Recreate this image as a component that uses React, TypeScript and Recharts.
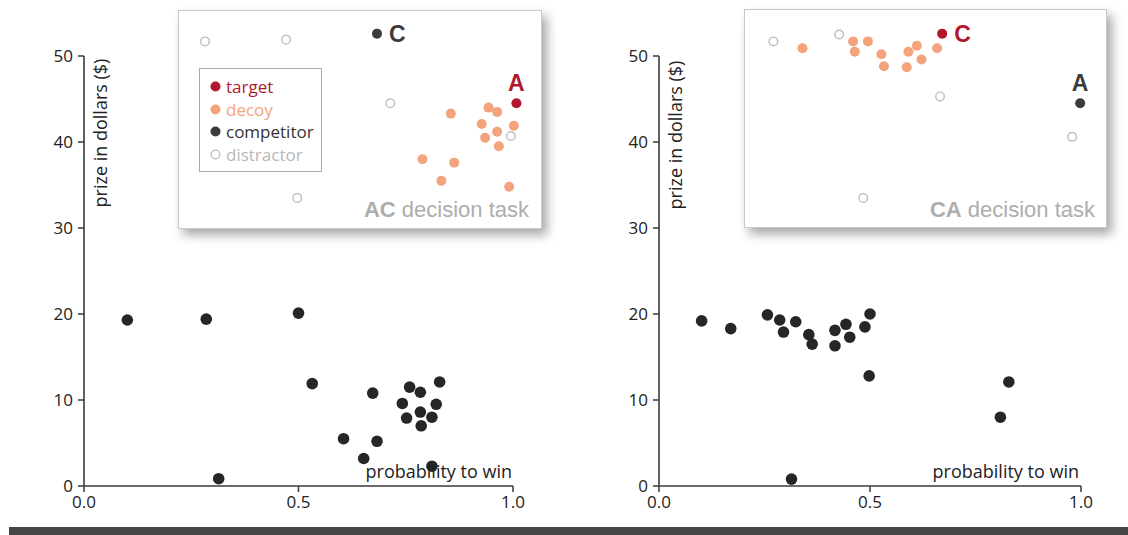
import { ScatterChart, Scatter, XAxis, YAxis, ReferenceLine, Legend } from 'recharts';

interface Pt {
  x: number;
  y: number;
}

const xTicks = [0, 0.5, 1];
const yTicks = [0, 10, 20, 30, 40, 50];
const xTitle = 'probability to win';
const yTitle = 'prize in dollars ($)';
const legendOrder = ['target', 'decoy', 'competitor', 'distractor'];

// AC decision task (left panel)
const acResponses: Pt[] = [
  { x: 0.101, y: 19.3 }, { x: 0.285, y: 19.4 }, { x: 0.5, y: 20.1 }, { x: 0.532, y: 11.9 },
  { x: 0.314, y: 0.85 }, { x: 0.673, y: 10.8 }, { x: 0.759, y: 11.5 }, { x: 0.784, y: 10.9 },
  { x: 0.829, y: 12.1 }, { x: 0.742, y: 9.6 }, { x: 0.821, y: 9.5 }, { x: 0.784, y: 8.6 },
  { x: 0.752, y: 7.9 }, { x: 0.811, y: 8.0 }, { x: 0.786, y: 7.0 }, { x: 0.605, y: 5.5 },
  { x: 0.683, y: 5.2 }, { x: 0.652, y: 3.2 }, { x: 0.811, y: 2.3 },
];
const acTarget: Pt[] = [{ x: 1.008, y: 44.5 }];
const acCompetitor: Pt[] = [{ x: 0.683, y: 52.6 }];
const acDecoys: Pt[] = [
  { x: 0.855, y: 43.3 }, { x: 0.943, y: 44.0 }, { x: 0.963, y: 43.5 }, { x: 0.927, y: 42.1 },
  { x: 1.002, y: 41.9 }, { x: 0.963, y: 41.2 }, { x: 0.935, y: 40.5 }, { x: 0.967, y: 39.5 },
  { x: 0.789, y: 38.0 }, { x: 0.863, y: 37.6 }, { x: 0.833, y: 35.5 }, { x: 0.991, y: 34.8 },
];
const acDistractors: Pt[] = [
  { x: 0.282, y: 51.7 }, { x: 0.471, y: 51.9 }, { x: 0.714, y: 44.5 }, { x: 0.497, y: 33.5 },
  { x: 0.995, y: 40.7 },
];

// CA decision task (right panel)
const caResponses: Pt[] = [
  { x: 0.101, y: 19.2 }, { x: 0.17, y: 18.3 }, { x: 0.257, y: 19.9 }, { x: 0.286, y: 19.3 },
  { x: 0.295, y: 17.9 }, { x: 0.324, y: 19.1 }, { x: 0.355, y: 17.6 }, { x: 0.363, y: 16.5 },
  { x: 0.417, y: 18.1 }, { x: 0.417, y: 16.3 }, { x: 0.443, y: 18.8 }, { x: 0.452, y: 17.3 },
  { x: 0.488, y: 18.5 }, { x: 0.5, y: 20.0 }, { x: 0.498, y: 12.8 }, { x: 0.829, y: 12.1 },
  { x: 0.809, y: 8.0 }, { x: 0.314, y: 0.8 },
];
const caTarget: Pt[] = [{ x: 0.671, y: 52.6 }];
const caCompetitor: Pt[] = [{ x: 0.998, y: 44.5 }];
const caDecoys: Pt[] = [
  { x: 0.34, y: 50.9 }, { x: 0.46, y: 51.7 }, { x: 0.464, y: 50.5 }, { x: 0.495, y: 51.7 },
  { x: 0.527, y: 50.2 }, { x: 0.533, y: 48.8 }, { x: 0.591, y: 50.5 }, { x: 0.611, y: 51.2 },
  { x: 0.622, y: 49.6 }, { x: 0.587, y: 48.7 }, { x: 0.659, y: 50.9 },
];
const caDistractors: Pt[] = [
  { x: 0.271, y: 51.7 }, { x: 0.427, y: 52.5 }, { x: 0.666, y: 45.3 }, { x: 0.979, y: 40.6 },
  { x: 0.484, y: 33.5 },
];

const RED = '#b3172e';
const SALMON = '#f3a47c';
const DARK = '#3b3b3b';
const INK = '#262626';
const GHOST = '#bdbdbd';
const AXIS = '#3a3a3a';

const LEGEND_STYLE: Record<string, { dot: string; text: string; hollow?: boolean }> = {
  target: { dot: RED, text: RED },
  decoy: { dot: SALMON, text: SALMON },
  competitor: { dot: DARK, text: '#333' },
  distractor: { dot: GHOST, text: '#b8b8b8', hollow: true },
};

const dot = (r: number, fill: string) => (p: any) => (
  <circle cx={p.cx} cy={p.cy} r={r} fill={fill} />
);

const ring = (p: any) => (
  <circle cx={p.cx} cy={p.cy} r={4.3} fill="#fff" stroke={GHOST} strokeWidth={1.4} />
);

const labeledDot = (fill: string, label: string, side: 'right' | 'top') => (p: any) => (
  <g>
    <circle cx={p.cx} cy={p.cy} r={5} fill={fill} />
    <text
      x={side === 'right' ? p.cx + 12 : p.cx}
      y={side === 'right' ? p.cy : p.cy - 20}
      textAnchor={side === 'right' ? 'start' : 'middle'}
      dominantBaseline="central"
      fontFamily="Liberation Sans"
      fontWeight={700}
      fontSize={23}
      fill={fill}
    >
      {label}
    </text>
  </g>
);

function InsetLegend({ payload }: any) {
  const items = [...(payload ?? [])]
    .filter((it: any) => legendOrder.includes(it.value))
    .sort((a: any, b: any) => legendOrder.indexOf(a.value) - legendOrder.indexOf(b.value));
  return (
    <div
      style={{
        boxSizing: 'border-box',
        width: 123,
        height: 104,
        border: '1px solid #a9a9a9',
        padding: '6px 0 6px 10px',
        background: '#fff',
      }}
    >
      {items.map((it: any) => {
        const st = LEGEND_STYLE[it.value];
        return (
          <div
            key={it.value}
            style={{ display: 'flex', alignItems: 'center', height: 22.7, fontSize: 17, color: st.text }}
          >
            <svg width={11} height={11} style={{ marginRight: 5 }}>
              <circle
                cx={5.5}
                cy={5.5}
                r={st.hollow ? 4.3 : 5}
                fill={st.hollow ? '#fff' : st.dot}
                stroke={st.hollow ? st.dot : 'none'}
                strokeWidth={1.3}
              />
            </svg>
            {it.value}
          </div>
        );
      })}
    </div>
  );
}

interface PanelProps {
  left: number;
  width: number;
  marginLeft: number;
  marginRight: number;
  responses: Pt[];
  target: Pt[];
  competitor: Pt[];
  decoys: Pt[];
  distractors: Pt[];
  targetLabel: string;
  competitorLabel: string;
  targetSide: 'right' | 'top';
  competitorSide: 'right' | 'top';
  showLegend?: boolean;
}

function Panel(props: PanelProps) {
  const { left, width, marginLeft, marginRight } = props;
  return (
    <div style={{ position: 'absolute', left, top: 0 }}>
      <ScatterChart
        width={width}
        height={535}
        margin={{ top: 13, right: marginRight, bottom: 19, left: marginLeft }}
      >
        <XAxis
          type="number"
          dataKey="x"
          domain={[0, 1.1]}
          ticks={xTicks}
          tickFormatter={(v: number) => v.toFixed(1)}
          axisLine={false}
          tickLine={{ stroke: AXIS, strokeWidth: 1.5 }}
          tickSize={6}
          tickMargin={4}
          tick={{ fontSize: 17, fill: '#222' }}
          height={30}
        />
        <YAxis
          type="number"
          dataKey="y"
          domain={[0, 55]}
          ticks={yTicks}
          axisLine={false}
          tickLine={{ stroke: AXIS, strokeWidth: 1.5 }}
          tickSize={6}
          tickMargin={5}
          tick={{ fontSize: 17, fill: '#222' }}
          width={60}
        />
        <ReferenceLine segment={[{ x: 0, y: 0 }, { x: 1, y: 0 }]} stroke={AXIS} strokeWidth={1.6} />
        <ReferenceLine segment={[{ x: 0, y: 0 }, { x: 0, y: 50 }]} stroke={AXIS} strokeWidth={1.6} />
        <Scatter name="responses" data={props.responses} legendType="none" shape={dot(5.8, INK)} isAnimationActive={false} />
        <Scatter name="target" data={props.target} fill={RED} shape={labeledDot(RED, props.targetLabel, props.targetSide)} isAnimationActive={false} />
        <Scatter name="decoy" data={props.decoys} fill={SALMON} shape={dot(5, SALMON)} isAnimationActive={false} />
        <Scatter name="competitor" data={props.competitor} fill={DARK} shape={labeledDot(DARK, props.competitorLabel, props.competitorSide)} isAnimationActive={false} />
        <Scatter name="distractor" data={props.distractors} fill={GHOST} shape={ring} isAnimationActive={false} />
        {props.showLegend && (
          <Legend
            layout="vertical"
            align="center"
            verticalAlign="middle"
            content={<InsetLegend />}
            wrapperStyle={{ left: 199, top: 68, width: 123, height: 104 }}
          />
        )}
      </ScatterChart>
    </div>
  );
}

const insetBox = (left: number, top: number, width: number, height: number) => (
  <div
    style={{
      position: 'absolute',
      left,
      top,
      width,
      height,
      boxSizing: 'border-box',
      background: '#fff',
      border: '1px solid #c9c9c9',
      boxShadow: '5px 6px 10px rgba(0,0,0,0.35)',
    }}
  />
);

const taskTitle = (right: number, bold: string) => (
  <div
    style={{
      position: 'absolute',
      right,
      top: 198,
      fontFamily: 'Liberation Sans',
      fontSize: 22,
      lineHeight: '24px',
      color: '#adadad',
      whiteSpace: 'nowrap',
    }}
  >
    <b>{bold}</b> decision task
  </div>
);

const yTitleAt = (cx: number, cy: number) => (
  <div
    style={{
      position: 'absolute',
      left: cx,
      top: cy,
      transform: 'translate(-50%, -50%) rotate(-90deg)',
      fontSize: 18,
      lineHeight: '20px',
      color: '#222',
      whiteSpace: 'nowrap',
    }}
  >
    {yTitle}
  </div>
);

const xTitleAt = (right: number) => (
  <div
    style={{
      position: 'absolute',
      right,
      top: 461,
      fontSize: 18,
      lineHeight: '20px',
      color: '#222',
      whiteSpace: 'nowrap',
    }}
  >
    {xTitle}
  </div>
);

export default function App() {
  return (
    <div
      style={{
        position: 'fixed',
        left: 0,
        top: 0,
        width: 1128,
        height: 535,
        background: '#fff',
        overflow: 'hidden',
        fontFamily: '"Open Sans", sans-serif',
      }}
    >
      {insetBox(178, 10, 364, 219)}
      {insetBox(744, 9, 363, 219)}
      <Panel
        left={0}
        width={560}
        marginLeft={24}
        marginRight={4.1}
        responses={acResponses}
        target={acTarget}
        competitor={acCompetitor}
        decoys={acDecoys}
        distractors={acDistractors}
        targetLabel="A"
        competitorLabel="C"
        targetSide="top"
        competitorSide="right"
        showLegend
      />
      <Panel
        left={560}
        width={568}
        marginLeft={39}
        marginRight={4.8}
        responses={caResponses}
        target={caTarget}
        competitor={caCompetitor}
        decoys={caDecoys}
        distractors={caDistractors}
        targetLabel="C"
        competitorLabel="A"
        targetSide="right"
        competitorSide="top"
      />
      {taskTitle(1128 - 529, 'AC')}
      {taskTitle(1128 - 1095, 'CA')}
      {yTitleAt(99.5, 133)}
      {yTitleAt(675, 134.5)}
      {xTitleAt(1128 - 512)}
      {xTitleAt(1128 - 1079)}
      <div style={{ position: 'absolute', left: 9, top: 527, width: 1119, height: 8, background: '#454545' }} />
    </div>
  );
}
